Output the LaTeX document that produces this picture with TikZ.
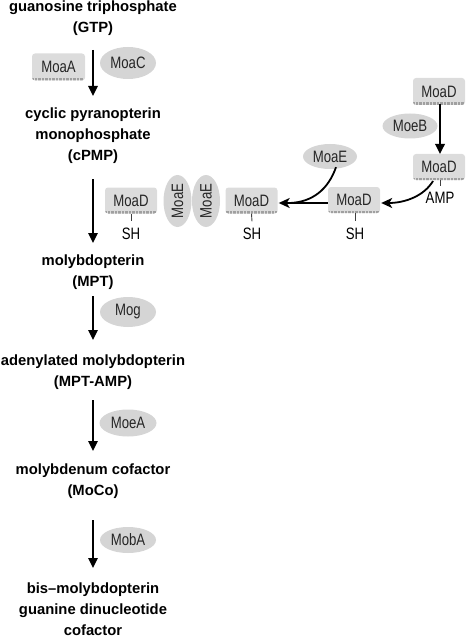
\documentclass[tikz,border=0pt]{standalone}
\usepackage{fontspec}
\setmainfont{Liberation Sans}
\newfontfamily\enzfont[FakeStretch=0.8]{Liberation Sans}
\usetikzlibrary{shapes.geometric,arrows.meta}
\definecolor{boxgray}{HTML}{DCDCDC}
\definecolor{ellgray}{HTML}{D5D5D5}
\definecolor{bandgray}{HTML}{A0A0A0}
\tikzset{
  metab/.style={font=\bfseries\fontsize{14.8}{21}\selectfont, align=center, inner sep=0pt},
  enzbox/.style={rectangle, rounded corners=3pt, fill=boxgray, minimum width=52pt, minimum height=26pt, inner sep=0pt,
    font=\enzfont\fontsize{16.5}{16.5}\selectfont, text=black!85,
    path picture={\draw[bandgray, line width=3pt, dash pattern=on 0.7pt off 0.7pt]
      ([yshift=1pt]path picture bounding box.south west) -- ([yshift=1pt]path picture bounding box.south east);}},
  enzell/.style={ellipse, fill=ellgray, inner sep=0pt, font=\enzfont\fontsize{16.5}{16.5}\selectfont, text=black!85},
  small/.style={inner sep=0pt, font=\enzfont\fontsize{16.5}{16.5}\selectfont, text=black},
  arr/.style={line width=1.7pt, -{Triangle[length=10pt,width=9.5pt]}},
  carr/.style={line width=1.8pt, -{Stealth[length=11pt,width=10pt,inset=3pt]}},
  tickline/.style={line width=0.9pt, draw=black!75}
}
\begin{document}
\begin{tikzpicture}[x=1pt,y=-1pt]
\useasboundingbox (0,0) rectangle (466,639);
% metabolites
\node[metab] (gtp) at (93,18.5) {guanosine triphosphate\\(GTP)};
\node[metab] (cpmp) at (93,135.5) {cyclic pyranopterin\\monophosphate\\(cPMP)};
\node[metab] (mpt) at (93,272.5) {molybdopterin\\(MPT)};
\node[metab] (mptamp) at (93,372.5) {adenylated molybdopterin\\(MPT-AMP)};
\node[metab] (moco) at (93,481.5) {molybdenum cofactor\\(MoCo)};
\node[metab] (bis) at (93,609.5) {bis–molybdopterin\\guanine dinucleotide\\cofactor};
% arrow end points
\coordinate (a1s) at (93,50);  \coordinate (a1e) at (93,96);
\coordinate (a2s) at (93,179); \coordinate (a2e) at (93,243);
\coordinate (a3s) at (93,296); \coordinate (a3e) at (93,340);
\coordinate (a4s) at (93,400); \coordinate (a4e) at (93,451);
\coordinate (a5s) at (93,520); \coordinate (a5e) at (93,568);
\draw[arr] (a1s) -- (a1e);
\draw[arr] (a2s) -- (a2e);
\draw[arr] (a3s) -- (a3e);
\draw[arr] (a4s) -- (a4e);
\draw[arr] (a5s) -- (a5e);
% enzymes on main path
\node[enzbox, minimum height=27pt, minimum width=53pt] (moaa) at (58.5,67) {MoaA};
\node[enzell, minimum width=56pt, minimum height=32pt] (moac) at (128,63) {MoaC};
\node[enzell, minimum width=56pt, minimum height=30pt] (mog) at (128,312) {Mog};
\node[enzell, minimum width=57pt, minimum height=27pt] (moea) at (128,423) {MoeA};
\node[enzell, minimum width=56pt, minimum height=26pt] (moba) at (128,540) {MobA};
% MoaD / MoaE row
\node[enzbox] (moad1) at (131,200.5) {MoaD};
\node[small] (sh1) at (131,233.5) {SH};
\node[enzell, rotate=90, minimum width=52pt, minimum height=28pt] (moae1) at (177.5,201) {MoaE};
\node[enzell, rotate=90, minimum width=52pt, minimum height=28pt] (moae2) at (206,201) {MoaE};
\node[enzbox] (moad2) at (251.5,200.5) {MoaD};
\node[small] (sh2) at (252,233.5) {SH};
\node[enzbox] (moad3) at (354,200) {MoaD};
\node[small] (sh3) at (355,233.5) {SH};
\node[enzell, minimum width=54pt, minimum height=25pt] (moae3) at (330,156.5) {MoaE};
\node[enzbox, minimum height=27pt] (moad4) at (439,91.5) {MoaD};
\node[enzell, minimum width=55pt, minimum height=25pt] (moeb) at (410,126) {MoeB};
\node[enzbox] (moad5) at (439,167) {MoaD};
\node[small] (amp) at (440,198) {AMP};
% ticks
\draw[tickline] (moad1.south) -- ([yshift=6pt]sh1.north);
\draw[tickline] (moad2.south) -- ([yshift=6pt]sh2.north);
\draw[tickline] ([xshift=1pt]moad3.south) -- ([yshift=6pt]sh3.north);
\draw[tickline] ([xshift=1pt]moad5.south) -- ([yshift=6pt]amp.north);
% side arrows
\coordinate (c4s) at (440,104.5);
\coordinate (c4e) at (440,154);
\draw[arr, line width=1.8pt] (c4s) -- (c4e);
\coordinate (c5s) at (433,181);
\draw[carr] (c5s) .. controls (424,196) and (405,203) .. ([xshift=1pt]moad3.east |- 0,203);
\draw[carr] (moad3.west |- 0,203) -- ([xshift=1pt]moad2.east |- 0,203);
\coordinate (mj) at (290,203);
\draw[line width=1.8pt] ([xshift=6pt,yshift=2pt]moae3.south) .. controls (328,190) and (312,202) .. (mj);
\end{tikzpicture}
\end{document}
